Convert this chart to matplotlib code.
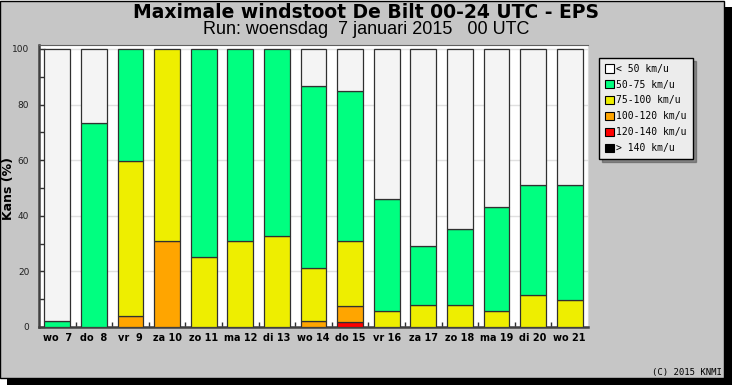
import matplotlib.pyplot as plt
from matplotlib.patches import Patch, Rectangle

# days on the x axis
days = ["wo  7", "do  8", "vr  9", "za 10", "zo 11", "ma 12", "di 13", "wo 14",
        "do 15", "vr 16", "za 17", "zo 18", "ma 19", "di 20", "wo 21"]

# chance (%) per wind gust class, stacked from the bottom up
gt140 = [0, 0, 0, 0, 0, 0, 0, 0, 0, 0, 0, 0, 0, 0, 0]
w120_140 = [0, 0, 0, 0, 0, 0, 0, 0, 1.9, 0, 0, 0, 0, 0, 0]
w100_120 = [0, 0, 3.8, 30.8, 0, 0, 0, 2.0, 5.6, 0, 0, 0, 0, 0, 0]
w75_100 = [0, 0, 55.8, 69.2, 25.2, 30.8, 32.8, 19.1, 23.3, 5.6, 7.8, 7.8, 5.6, 11.5, 9.6]
w50_75 = [2.0, 73.3, 40.4, 0, 74.8, 69.2, 67.2, 65.7, 53.9, 40.6, 21.4, 27.4, 37.5, 39.5, 41.4]
lt50 = [98.0, 26.7, 0, 0, 0, 0, 0, 13.2, 15.3, 53.8, 70.8, 64.8, 56.9, 49.0, 49.0]

labels = ["< 50 km/u", "50-75 km/u", "75-100 km/u", "100-120 km/u", "120-140 km/u", "> 140 km/u"]
colors = ["#f4f4f4", "#00ff80", "#eeee00", "#ffa500", "#ff0000", "#000000"]

fig = plt.figure(figsize=(7.32, 3.85), dpi=100, facecolor="white")

# grey panel with black shadow
fig.patches.append(Rectangle((7 / 732, 0), 725 / 732, 378 / 385, transform=fig.transFigure,
                             facecolor="black", edgecolor="none", zorder=-10))
fig.patches.append(Rectangle((0, 7 / 385), 724 / 732, 377 / 385, transform=fig.transFigure,
                             facecolor="#c6c6c6", edgecolor="black", linewidth=1, zorder=-9))

ax = fig.add_axes([39 / 732, 1 - 327 / 385, 549 / 732, 282 / 385])
ax.set_facecolor("white")

x = list(range(len(days)))
stack = [gt140, w120_140, w100_120, w75_100, w50_75, lt50]
stack_colors = colors[::-1]
bottom = [0] * len(days)
for vals, col in zip(stack, stack_colors):
    hs = [v if v > 0 else 0 for v in vals]
    lw = [0.9 if v > 0 else 0 for v in vals]
    ax.bar(x, hs, width=0.71, bottom=bottom, color=col, edgecolor="#303030",
           linewidth=lw, zorder=3)
    bottom = [b + h for b, h in zip(bottom, hs)]

ax.set_xlim(-0.5, len(days) - 0.5)
ax.set_ylim(0, 101.4)
ax.set_xticks(x)
ax.set_xticklabels(days, fontsize=7, fontweight="bold")
ax.set_xticks([i + 0.5 for i in x[:-1]], minor=True)
ax.set_yticks([0, 20, 40, 60, 80, 100])
ax.set_yticklabels(["0", "20", "40", "60", "80", "100"], fontsize=6.5, color="#202020")
ax.set_yticks([10, 30, 50, 70, 90], minor=True)
ax.tick_params(axis="x", which="major", length=0, pad=4)
ax.tick_params(axis="y", which="major", direction="in", length=4, width=1,
               color="#303030", pad=7)
ax.tick_params(which="minor", direction="in", length=3.5, width=1, color="#303030")
ax.yaxis.grid(True, color="#e0e0e0", linewidth=1, zorder=0)
ax.set_axisbelow(True)

ax.spines["top"].set_color("#606060")
ax.spines["right"].set_color("#d8d8d8")
for s in ["left", "bottom"]:
    ax.spines[s].set_color("#404040")
    ax.spines[s].set_linewidth(1.8)

ax.set_ylabel("Kans (%)", fontsize=9, fontweight="bold", va="center")
ax.yaxis.set_label_coords((9 - 39) / 549, 0.49)

fig.text(0.5, 1 - 12 / 385, "Maximale windstoot De Bilt 00-24 UTC - EPS",
         ha="center", va="center", fontsize=13.5, fontweight="bold")
fig.text(0.5, 1 - 30 / 385, "Run: woensdag  7 januari 2015   00 UTC",
         ha="center", va="center", fontsize=13, family="Liberation Sans")
fig.text(722 / 732, 1 - 372 / 385, "(C) 2015 KNMI", ha="right", va="center",
         fontsize=6.5, family="DejaVu Sans Mono")

handles = [Patch(facecolor="white" if i == 0 else c, edgecolor="black", linewidth=0.8)
           for i, c in enumerate(colors)]
leg = fig.legend(handles, labels, loc="upper left", bbox_to_anchor=(599 / 732, 1 - 58 / 385),
                 prop={"family": "DejaVu Sans Mono", "size": 7}, frameon=True, fancybox=False,
                 shadow=True, handlelength=0.9, handleheight=0.9, handletextpad=0.3,
                 labelspacing=0.6, borderpad=0.6, borderaxespad=0)
leg.get_frame().set_facecolor("#ececec")
leg.get_frame().set_edgecolor("black")
leg.get_frame().set_alpha(1)

fig.savefig("out.png", dpi=100, facecolor=fig.get_facecolor())
